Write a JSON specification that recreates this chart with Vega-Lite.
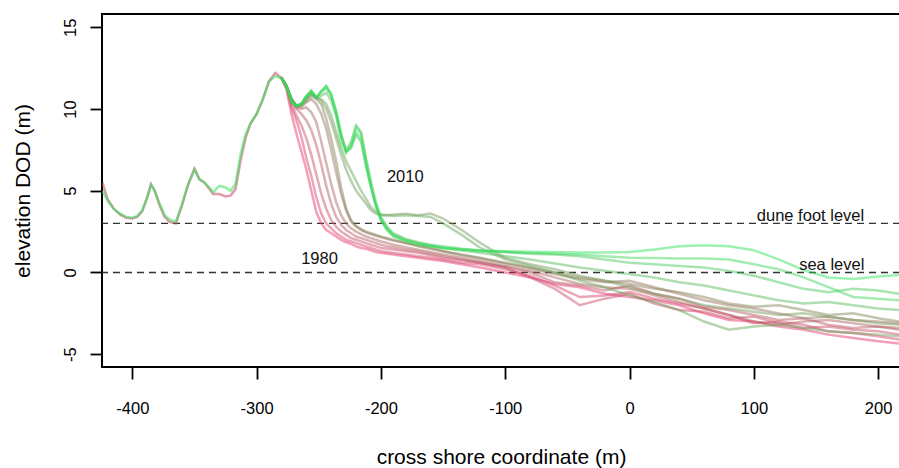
{
"$schema":"https://vega.github.io/schema/vega-lite/v6.json",
"width":798,"height":353,
"autosize":{"type":"none"},
"padding":{"left":102,"top":14,"right":0,"bottom":101},
"background":"white",
"config":{"view":{"stroke":"black","strokeWidth":2},"font":"Liberation Sans",
 "axis":{"domain":false,"grid":false,"tickColor":"black","tickWidth":1.8,"tickSize":12,"labelFontSize":16.5,"labelColor":"black","titleFontSize":21,"titleFontWeight":"normal","titleColor":"black","labelFont":"Liberation Sans","titleFont":"Liberation Sans","labelExpr":"replace(datum.label, '\u2212', '-')"}},
"datasets":{
"levels":[{"z":3},{"z":0}],
"notes":[{"t":"2010","x":-180.4,"z":5.54},{"t":"1980","x":-249.4,"z":0.55},{"t":"dune foot level","x":145.6,"z":3.14},{"t":"sea level","x":162.7,"z":0.16}],
"common":[
{"yr":1985,"x":-424,"z":5.5},{"yr":1985,"x":-420,"z":4.5},{"yr":1985,"x":-415,"z":3.9},{"yr":1985,"x":-410,"z":3.55},{"yr":1985,"x":-405,"z":3.35},{"yr":1985,"x":-400,"z":3.3},{"yr":1985,"x":-396,"z":3.4},{"yr":1985,"x":-392,"z":3.75},{"yr":1985,"x":-388,"z":4.6},{"yr":1985,"x":-385,"z":5.4},{"yr":1985,"x":-382,"z":5.0},{"yr":1985,"x":-378,"z":4.1},{"yr":1985,"x":-374,"z":3.4},{"yr":1985,"x":-370,"z":3.1},{"yr":1985,"x":-365,"z":3.0},{"yr":1985,"x":-360,"z":4.1},{"yr":1985,"x":-355,"z":5.4},{"yr":1985,"x":-350,"z":6.35},{"yr":1985,"x":-346,"z":5.7},{"yr":1985,"x":-342,"z":5.5},{"yr":1985,"x":-338,"z":5.1},{"yr":1985,"x":-335,"z":4.8},{"yr":1985,"x":-330,"z":4.8},{"yr":1985,"x":-325,"z":4.65},{"yr":1985,"x":-321,"z":4.7},{"yr":1985,"x":-317,"z":5.1},{"yr":1985,"x":-313,"z":6.8},{"yr":1985,"x":-309,"z":8.2},{"yr":1985,"x":-305,"z":9.1},{"yr":1985,"x":-300,"z":9.7},{"yr":1985,"x":-295,"z":10.6},{"yr":1985,"x":-290,"z":11.7},{"yr":1985,"x":-285,"z":12.2},{"yr":1985,"x":-280,"z":11.9},
{"yr":2010,"x":-424,"z":5.0},{"yr":2010,"x":-420,"z":4.4},{"yr":2010,"x":-415,"z":3.9},{"yr":2010,"x":-410,"z":3.6},{"yr":2010,"x":-405,"z":3.4},{"yr":2010,"x":-400,"z":3.35},{"yr":2010,"x":-396,"z":3.45},{"yr":2010,"x":-392,"z":3.8},{"yr":2010,"x":-388,"z":4.6},{"yr":2010,"x":-385,"z":5.35},{"yr":2010,"x":-382,"z":5.0},{"yr":2010,"x":-378,"z":4.2},{"yr":2010,"x":-374,"z":3.5},{"yr":2010,"x":-370,"z":3.25},{"yr":2010,"x":-365,"z":3.1},{"yr":2010,"x":-360,"z":4.2},{"yr":2010,"x":-355,"z":5.4},{"yr":2010,"x":-350,"z":6.3},{"yr":2010,"x":-346,"z":5.7},{"yr":2010,"x":-342,"z":5.5},{"yr":2010,"x":-338,"z":5.2},{"yr":2010,"x":-335,"z":4.9},{"yr":2010,"x":-330,"z":5.3},{"yr":2010,"x":-325,"z":5.2},{"yr":2010,"x":-321,"z":5.0},{"yr":2010,"x":-317,"z":5.4},{"yr":2010,"x":-313,"z":7.2},{"yr":2010,"x":-309,"z":8.4},{"yr":2010,"x":-305,"z":9.1},{"yr":2010,"x":-300,"z":9.7},{"yr":2010,"x":-295,"z":10.6},{"yr":2010,"x":-290,"z":11.7},{"yr":2010,"x":-285,"z":12.0},{"yr":2010,"x":-280,"z":11.9}
],
"profiles":[
{"yr":1980,"x":-280,"z":11.9},{"yr":1980,"x":-276,"z":11.2},{"yr":1980,"x":-272,"z":9.7},{"yr":1980,"x":-268,"z":8.5},{"yr":1980,"x":-264,"z":7.4},{"yr":1980,"x":-260,"z":6.3},{"yr":1980,"x":-256,"z":5.0},{"yr":1980,"x":-252,"z":3.7},{"yr":1980,"x":-248,"z":3.0},{"yr":1980,"x":-244,"z":2.6},{"yr":1980,"x":-240,"z":2.4},{"yr":1980,"x":-236,"z":2.2},{"yr":1980,"x":-232,"z":2.0},{"yr":1980,"x":-228,"z":1.85},{"yr":1980,"x":-224,"z":1.75},{"yr":1980,"x":-220,"z":1.6},{"yr":1980,"x":-216,"z":1.5},{"yr":1980,"x":-212,"z":1.45},{"yr":1980,"x":-208,"z":1.35},{"yr":1980,"x":-204,"z":1.25},{"yr":1980,"x":-200,"z":1.2},{"yr":1980,"x":-195,"z":1.15},{"yr":1980,"x":-190,"z":1.1},{"yr":1980,"x":-180,"z":1.0},{"yr":1980,"x":-170,"z":0.9},{"yr":1980,"x":-160,"z":0.8},{"yr":1980,"x":-150,"z":0.7},{"yr":1980,"x":-135,"z":0.5},{"yr":1980,"x":-120,"z":0.3},{"yr":1980,"x":-100,"z":0.0},{"yr":1980,"x":-80,"z":-0.3},{"yr":1980,"x":-60,"z":-0.7},{"yr":1980,"x":-40,"z":-0.9},{"yr":1980,"x":-20,"z":-1.3},{"yr":1980,"x":0,"z":-1.5},{"yr":1980,"x":20,"z":-1.7},{"yr":1980,"x":40,"z":-2.0},{"yr":1980,"x":60,"z":-2.5},{"yr":1980,"x":80,"z":-2.9},{"yr":1980,"x":100,"z":-3.0},{"yr":1980,"x":120,"z":-3.3},{"yr":1980,"x":140,"z":-3.5},{"yr":1980,"x":160,"z":-3.8},{"yr":1980,"x":180,"z":-4.0},{"yr":1980,"x":200,"z":-4.2},{"yr":1980,"x":217,"z":-4.35},
{"yr":1983,"x":-280,"z":11.9},{"yr":1983,"x":-276,"z":11.3},{"yr":1983,"x":-272,"z":10.1},{"yr":1983,"x":-268,"z":9.3},{"yr":1983,"x":-264,"z":8.3},{"yr":1983,"x":-260,"z":7.0},{"yr":1983,"x":-256,"z":5.9},{"yr":1983,"x":-252,"z":4.6},{"yr":1983,"x":-248,"z":3.6},{"yr":1983,"x":-244,"z":3.0},{"yr":1983,"x":-240,"z":2.7},{"yr":1983,"x":-236,"z":2.4},{"yr":1983,"x":-232,"z":2.2},{"yr":1983,"x":-228,"z":2.0},{"yr":1983,"x":-224,"z":1.9},{"yr":1983,"x":-220,"z":1.8},{"yr":1983,"x":-216,"z":1.7},{"yr":1983,"x":-212,"z":1.6},{"yr":1983,"x":-208,"z":1.5},{"yr":1983,"x":-204,"z":1.4},{"yr":1983,"x":-200,"z":1.3},{"yr":1983,"x":-195,"z":1.25},{"yr":1983,"x":-190,"z":1.2},{"yr":1983,"x":-180,"z":1.1},{"yr":1983,"x":-170,"z":1.0},{"yr":1983,"x":-160,"z":0.9},{"yr":1983,"x":-150,"z":0.8},{"yr":1983,"x":-135,"z":0.6},{"yr":1983,"x":-120,"z":0.5},{"yr":1983,"x":-100,"z":0.2},{"yr":1983,"x":-80,"z":-0.2},{"yr":1983,"x":-60,"z":-0.8},{"yr":1983,"x":-40,"z":-1.5},{"yr":1983,"x":-20,"z":-1.4},{"yr":1983,"x":0,"z":-1.2},{"yr":1983,"x":20,"z":-1.6},{"yr":1983,"x":40,"z":-1.9},{"yr":1983,"x":60,"z":-2.2},{"yr":1983,"x":80,"z":-2.6},{"yr":1983,"x":100,"z":-3.1},{"yr":1983,"x":120,"z":-3.0},{"yr":1983,"x":140,"z":-3.2},{"yr":1983,"x":160,"z":-3.6},{"yr":1983,"x":180,"z":-3.7},{"yr":1983,"x":200,"z":-3.9},{"yr":1983,"x":217,"z":-4.1},
{"yr":1985,"x":-280,"z":11.9},{"yr":1985,"x":-276,"z":11.4},{"yr":1985,"x":-272,"z":10.3},{"yr":1985,"x":-268,"z":9.6},{"yr":1985,"x":-264,"z":9.0},{"yr":1985,"x":-260,"z":8.2},{"yr":1985,"x":-256,"z":7.2},{"yr":1985,"x":-252,"z":6.0},{"yr":1985,"x":-248,"z":4.8},{"yr":1985,"x":-244,"z":3.9},{"yr":1985,"x":-240,"z":3.2},{"yr":1985,"x":-236,"z":2.8},{"yr":1985,"x":-232,"z":2.5},{"yr":1985,"x":-228,"z":2.3},{"yr":1985,"x":-224,"z":2.1},{"yr":1985,"x":-220,"z":2.0},{"yr":1985,"x":-216,"z":1.9},{"yr":1985,"x":-212,"z":1.8},{"yr":1985,"x":-208,"z":1.7},{"yr":1985,"x":-204,"z":1.6},{"yr":1985,"x":-200,"z":1.5},{"yr":1985,"x":-195,"z":1.45},{"yr":1985,"x":-190,"z":1.4},{"yr":1985,"x":-180,"z":1.3},{"yr":1985,"x":-170,"z":1.2},{"yr":1985,"x":-160,"z":1.05},{"yr":1985,"x":-150,"z":0.9},{"yr":1985,"x":-135,"z":0.75},{"yr":1985,"x":-120,"z":0.6},{"yr":1985,"x":-100,"z":0.3},{"yr":1985,"x":-80,"z":-0.3},{"yr":1985,"x":-60,"z":-1.0},{"yr":1985,"x":-40,"z":-2.0},{"yr":1985,"x":-20,"z":-1.6},{"yr":1985,"x":0,"z":-1.3},{"yr":1985,"x":20,"z":-1.9},{"yr":1985,"x":40,"z":-2.3},{"yr":1985,"x":60,"z":-2.4},{"yr":1985,"x":80,"z":-2.8},{"yr":1985,"x":100,"z":-2.7},{"yr":1985,"x":120,"z":-3.1},{"yr":1985,"x":140,"z":-3.4},{"yr":1985,"x":160,"z":-3.3},{"yr":1985,"x":180,"z":-3.5},{"yr":1985,"x":200,"z":-3.6},{"yr":1985,"x":217,"z":-3.8},
{"yr":1988,"x":-280,"z":11.9},{"yr":1988,"x":-276,"z":11.4},{"yr":1988,"x":-272,"z":10.5},{"yr":1988,"x":-268,"z":10.0},{"yr":1988,"x":-264,"z":9.7},{"yr":1988,"x":-260,"z":9.3},{"yr":1988,"x":-256,"z":8.7},{"yr":1988,"x":-252,"z":7.8},{"yr":1988,"x":-248,"z":6.6},{"yr":1988,"x":-244,"z":5.3},{"yr":1988,"x":-240,"z":4.2},{"yr":1988,"x":-236,"z":3.4},{"yr":1988,"x":-232,"z":2.9},{"yr":1988,"x":-228,"z":2.6},{"yr":1988,"x":-224,"z":2.4},{"yr":1988,"x":-220,"z":2.2},{"yr":1988,"x":-216,"z":2.1},{"yr":1988,"x":-212,"z":2.0},{"yr":1988,"x":-208,"z":1.9},{"yr":1988,"x":-204,"z":1.8},{"yr":1988,"x":-200,"z":1.7},{"yr":1988,"x":-195,"z":1.6},{"yr":1988,"x":-190,"z":1.55},{"yr":1988,"x":-180,"z":1.4},{"yr":1988,"x":-170,"z":1.3},{"yr":1988,"x":-160,"z":1.15},{"yr":1988,"x":-150,"z":1.0},{"yr":1988,"x":-135,"z":0.8},{"yr":1988,"x":-120,"z":0.6},{"yr":1988,"x":-100,"z":0.35},{"yr":1988,"x":-80,"z":0.0},{"yr":1988,"x":-60,"z":-0.6},{"yr":1988,"x":-40,"z":-0.8},{"yr":1988,"x":-20,"z":-1.1},{"yr":1988,"x":0,"z":-0.8},{"yr":1988,"x":20,"z":-1.3},{"yr":1988,"x":40,"z":-1.6},{"yr":1988,"x":60,"z":-2.1},{"yr":1988,"x":80,"z":-2.3},{"yr":1988,"x":100,"z":-2.6},{"yr":1988,"x":120,"z":-2.9},{"yr":1988,"x":140,"z":-2.8},{"yr":1988,"x":160,"z":-3.2},{"yr":1988,"x":180,"z":-3.4},{"yr":1988,"x":200,"z":-3.3},{"yr":1988,"x":217,"z":-3.5},
{"yr":1990,"x":-280,"z":11.9},{"yr":1990,"x":-276,"z":11.4},{"yr":1990,"x":-272,"z":10.6},{"yr":1990,"x":-268,"z":10.1},{"yr":1990,"x":-264,"z":10.0},{"yr":1990,"x":-260,"z":10.1},{"yr":1990,"x":-256,"z":9.8},{"yr":1990,"x":-252,"z":9.2},{"yr":1990,"x":-248,"z":8.0},{"yr":1990,"x":-244,"z":6.7},{"yr":1990,"x":-240,"z":5.4},{"yr":1990,"x":-236,"z":4.3},{"yr":1990,"x":-232,"z":3.5},{"yr":1990,"x":-228,"z":3.0},{"yr":1990,"x":-224,"z":2.7},{"yr":1990,"x":-220,"z":2.5},{"yr":1990,"x":-216,"z":2.35},{"yr":1990,"x":-212,"z":2.2},{"yr":1990,"x":-208,"z":2.1},{"yr":1990,"x":-204,"z":2.0},{"yr":1990,"x":-200,"z":1.9},{"yr":1990,"x":-195,"z":1.8},{"yr":1990,"x":-190,"z":1.7},{"yr":1990,"x":-180,"z":1.55},{"yr":1990,"x":-170,"z":1.4},{"yr":1990,"x":-160,"z":1.25},{"yr":1990,"x":-150,"z":1.1},{"yr":1990,"x":-135,"z":0.9},{"yr":1990,"x":-120,"z":0.7},{"yr":1990,"x":-100,"z":0.4},{"yr":1990,"x":-80,"z":0.1},{"yr":1990,"x":-60,"z":-0.3},{"yr":1990,"x":-40,"z":-0.7},{"yr":1990,"x":-20,"z":-0.9},{"yr":1990,"x":0,"z":-1.0},{"yr":1990,"x":20,"z":-1.4},{"yr":1990,"x":40,"z":-1.8},{"yr":1990,"x":60,"z":-2.2},{"yr":1990,"x":80,"z":-2.6},{"yr":1990,"x":100,"z":-3.0},{"yr":1990,"x":120,"z":-3.2},{"yr":1990,"x":140,"z":-3.0},{"yr":1990,"x":160,"z":-2.9},{"yr":1990,"x":180,"z":-3.1},{"yr":1990,"x":200,"z":-3.3},{"yr":1990,"x":217,"z":-3.4},
{"yr":1993,"x":-280,"z":11.9},{"yr":1993,"x":-276,"z":11.4},{"yr":1993,"x":-272,"z":10.6},{"yr":1993,"x":-268,"z":10.1},{"yr":1993,"x":-264,"z":10.1},{"yr":1993,"x":-260,"z":10.4},{"yr":1993,"x":-256,"z":10.6},{"yr":1993,"x":-252,"z":10.3},{"yr":1993,"x":-248,"z":9.7},{"yr":1993,"x":-244,"z":8.8},{"yr":1993,"x":-240,"z":7.5},{"yr":1993,"x":-236,"z":6.1},{"yr":1993,"x":-232,"z":4.8},{"yr":1993,"x":-228,"z":3.8},{"yr":1993,"x":-224,"z":3.1},{"yr":1993,"x":-220,"z":2.8},{"yr":1993,"x":-216,"z":2.6},{"yr":1993,"x":-212,"z":2.45},{"yr":1993,"x":-208,"z":2.35},{"yr":1993,"x":-204,"z":2.25},{"yr":1993,"x":-200,"z":2.15},{"yr":1993,"x":-195,"z":2.05},{"yr":1993,"x":-190,"z":1.95},{"yr":1993,"x":-180,"z":1.8},{"yr":1993,"x":-170,"z":1.65},{"yr":1993,"x":-160,"z":1.5},{"yr":1993,"x":-150,"z":1.3},{"yr":1993,"x":-135,"z":1.05},{"yr":1993,"x":-120,"z":0.85},{"yr":1993,"x":-100,"z":0.55},{"yr":1993,"x":-80,"z":0.25},{"yr":1993,"x":-60,"z":-0.1},{"yr":1993,"x":-40,"z":-0.4},{"yr":1993,"x":-20,"z":-0.6},{"yr":1993,"x":0,"z":-0.5},{"yr":1993,"x":20,"z":-0.9},{"yr":1993,"x":40,"z":-1.3},{"yr":1993,"x":60,"z":-1.7},{"yr":1993,"x":80,"z":-2.0},{"yr":1993,"x":100,"z":-2.2},{"yr":1993,"x":120,"z":-2.5},{"yr":1993,"x":140,"z":-2.8},{"yr":1993,"x":160,"z":-2.7},{"yr":1993,"x":180,"z":-2.9},{"yr":1993,"x":200,"z":-3.0},{"yr":1993,"x":217,"z":-3.1},
{"yr":1996,"x":-280,"z":11.9},{"yr":1996,"x":-276,"z":11.4},{"yr":1996,"x":-272,"z":10.6},{"yr":1996,"x":-268,"z":10.2},{"yr":1996,"x":-264,"z":10.2},{"yr":1996,"x":-260,"z":10.5},{"yr":1996,"x":-256,"z":10.8},{"yr":1996,"x":-252,"z":10.6},{"yr":1996,"x":-248,"z":10.3},{"yr":1996,"x":-244,"z":9.4},{"yr":1996,"x":-240,"z":8.2},{"yr":1996,"x":-236,"z":6.8},{"yr":1996,"x":-232,"z":5.2},{"yr":1996,"x":-228,"z":3.9},{"yr":1996,"x":-224,"z":3.2},{"yr":1996,"x":-220,"z":2.85},{"yr":1996,"x":-216,"z":2.65},{"yr":1996,"x":-212,"z":2.5},{"yr":1996,"x":-208,"z":2.4},{"yr":1996,"x":-204,"z":2.3},{"yr":1996,"x":-200,"z":2.2},{"yr":1996,"x":-195,"z":2.1},{"yr":1996,"x":-190,"z":2.0},{"yr":1996,"x":-180,"z":1.8},{"yr":1996,"x":-170,"z":1.6},{"yr":1996,"x":-160,"z":1.45},{"yr":1996,"x":-150,"z":1.3},{"yr":1996,"x":-135,"z":1.1},{"yr":1996,"x":-120,"z":0.9},{"yr":1996,"x":-100,"z":0.6},{"yr":1996,"x":-80,"z":0.3},{"yr":1996,"x":-60,"z":0.0},{"yr":1996,"x":-40,"z":-0.3},{"yr":1996,"x":-20,"z":-0.5},{"yr":1996,"x":0,"z":-0.7},{"yr":1996,"x":20,"z":-1.0},{"yr":1996,"x":40,"z":-1.2},{"yr":1996,"x":60,"z":-1.5},{"yr":1996,"x":80,"z":-1.9},{"yr":1996,"x":100,"z":-2.1},{"yr":1996,"x":120,"z":-2.0},{"yr":1996,"x":140,"z":-2.3},{"yr":1996,"x":160,"z":-2.6},{"yr":1996,"x":180,"z":-2.5},{"yr":1996,"x":200,"z":-2.8},{"yr":1996,"x":217,"z":-3.0},
{"yr":1999,"x":-280,"z":11.9},{"yr":1999,"x":-276,"z":11.4},{"yr":1999,"x":-272,"z":10.6},{"yr":1999,"x":-268,"z":10.2},{"yr":1999,"x":-264,"z":10.3},{"yr":1999,"x":-260,"z":10.6},{"yr":1999,"x":-256,"z":10.9},{"yr":1999,"x":-252,"z":10.7},{"yr":1999,"x":-248,"z":10.5},{"yr":1999,"x":-244,"z":10.0},{"yr":1999,"x":-240,"z":9.2},{"yr":1999,"x":-236,"z":8.2},{"yr":1999,"x":-232,"z":7.2},{"yr":1999,"x":-228,"z":6.3},{"yr":1999,"x":-224,"z":5.6},{"yr":1999,"x":-220,"z":5.0},{"yr":1999,"x":-216,"z":4.6},{"yr":1999,"x":-212,"z":4.2},{"yr":1999,"x":-208,"z":3.8},{"yr":1999,"x":-204,"z":3.6},{"yr":1999,"x":-200,"z":3.5},{"yr":1999,"x":-195,"z":3.5},{"yr":1999,"x":-190,"z":3.55},{"yr":1999,"x":-180,"z":3.6},{"yr":1999,"x":-170,"z":3.5},{"yr":1999,"x":-160,"z":3.6},{"yr":1999,"x":-150,"z":3.3},{"yr":1999,"x":-135,"z":2.6},{"yr":1999,"x":-120,"z":1.8},{"yr":1999,"x":-100,"z":0.9},{"yr":1999,"x":-80,"z":0.5},{"yr":1999,"x":-60,"z":0.2},{"yr":1999,"x":-40,"z":-0.2},{"yr":1999,"x":-20,"z":-0.5},{"yr":1999,"x":0,"z":-0.9},{"yr":1999,"x":20,"z":-1.3},{"yr":1999,"x":40,"z":-1.6},{"yr":1999,"x":60,"z":-2.0},{"yr":1999,"x":80,"z":-2.2},{"yr":1999,"x":100,"z":-2.4},{"yr":1999,"x":120,"z":-2.6},{"yr":1999,"x":140,"z":-2.5},{"yr":1999,"x":160,"z":-2.7},{"yr":1999,"x":180,"z":-2.9},{"yr":1999,"x":200,"z":-3.1},{"yr":1999,"x":217,"z":-3.2},
{"yr":2001,"x":-280,"z":11.9},{"yr":2001,"x":-276,"z":11.4},{"yr":2001,"x":-272,"z":10.6},{"yr":2001,"x":-268,"z":10.2},{"yr":2001,"x":-264,"z":10.3},{"yr":2001,"x":-260,"z":10.7},{"yr":2001,"x":-256,"z":11.0},{"yr":2001,"x":-252,"z":10.7},{"yr":2001,"x":-248,"z":10.6},{"yr":2001,"x":-244,"z":10.3},{"yr":2001,"x":-240,"z":9.6},{"yr":2001,"x":-236,"z":8.6},{"yr":2001,"x":-232,"z":7.6},{"yr":2001,"x":-228,"z":6.8},{"yr":2001,"x":-224,"z":6.2},{"yr":2001,"x":-220,"z":5.6},{"yr":2001,"x":-216,"z":5.0},{"yr":2001,"x":-212,"z":4.5},{"yr":2001,"x":-208,"z":4.0},{"yr":2001,"x":-204,"z":3.7},{"yr":2001,"x":-200,"z":3.55},{"yr":2001,"x":-195,"z":3.5},{"yr":2001,"x":-190,"z":3.45},{"yr":2001,"x":-180,"z":3.5},{"yr":2001,"x":-170,"z":3.45},{"yr":2001,"x":-160,"z":3.4},{"yr":2001,"x":-150,"z":3.0},{"yr":2001,"x":-135,"z":2.3},{"yr":2001,"x":-120,"z":1.5},{"yr":2001,"x":-100,"z":0.8},{"yr":2001,"x":-80,"z":0.4},{"yr":2001,"x":-60,"z":0.0},{"yr":2001,"x":-40,"z":-0.5},{"yr":2001,"x":-20,"z":-0.9},{"yr":2001,"x":0,"z":-1.4},{"yr":2001,"x":20,"z":-1.8},{"yr":2001,"x":40,"z":-2.3},{"yr":2001,"x":60,"z":-3.0},{"yr":2001,"x":80,"z":-3.5},{"yr":2001,"x":100,"z":-3.3},{"yr":2001,"x":120,"z":-3.2},{"yr":2001,"x":140,"z":-3.4},{"yr":2001,"x":160,"z":-3.6},{"yr":2001,"x":180,"z":-3.7},{"yr":2001,"x":200,"z":-3.8},{"yr":2001,"x":217,"z":-3.9},
{"yr":2004,"x":-280,"z":11.9},{"yr":2004,"x":-276,"z":11.4},{"yr":2004,"x":-272,"z":10.6},{"yr":2004,"x":-268,"z":10.2},{"yr":2004,"x":-264,"z":10.3},{"yr":2004,"x":-260,"z":10.7},{"yr":2004,"x":-256,"z":11.0},{"yr":2004,"x":-252,"z":10.7},{"yr":2004,"x":-248,"z":10.8},{"yr":2004,"x":-244,"z":11.0},{"yr":2004,"x":-240,"z":10.5},{"yr":2004,"x":-236,"z":9.6},{"yr":2004,"x":-232,"z":8.3},{"yr":2004,"x":-228,"z":7.4},{"yr":2004,"x":-224,"z":7.6},{"yr":2004,"x":-220,"z":8.4},{"yr":2004,"x":-216,"z":8.0},{"yr":2004,"x":-212,"z":6.5},{"yr":2004,"x":-208,"z":5.2},{"yr":2004,"x":-204,"z":4.1},{"yr":2004,"x":-200,"z":3.3},{"yr":2004,"x":-195,"z":2.7},{"yr":2004,"x":-190,"z":2.3},{"yr":2004,"x":-180,"z":2.0},{"yr":2004,"x":-170,"z":1.8},{"yr":2004,"x":-160,"z":1.65},{"yr":2004,"x":-150,"z":1.5},{"yr":2004,"x":-135,"z":1.35},{"yr":2004,"x":-120,"z":1.2},{"yr":2004,"x":-100,"z":1.0},{"yr":2004,"x":-80,"z":0.8},{"yr":2004,"x":-60,"z":0.55},{"yr":2004,"x":-40,"z":0.3},{"yr":2004,"x":-20,"z":0.1},{"yr":2004,"x":0,"z":-0.1},{"yr":2004,"x":20,"z":-0.3},{"yr":2004,"x":40,"z":-0.6},{"yr":2004,"x":60,"z":-0.8},{"yr":2004,"x":80,"z":-1.1},{"yr":2004,"x":100,"z":-1.4},{"yr":2004,"x":120,"z":-1.7},{"yr":2004,"x":140,"z":-1.9},{"yr":2004,"x":160,"z":-1.8},{"yr":2004,"x":180,"z":-2.0},{"yr":2004,"x":200,"z":-2.2},{"yr":2004,"x":217,"z":-2.3},
{"yr":2006,"x":-280,"z":11.9},{"yr":2006,"x":-276,"z":11.4},{"yr":2006,"x":-272,"z":10.5},{"yr":2006,"x":-268,"z":10.2},{"yr":2006,"x":-264,"z":10.3},{"yr":2006,"x":-260,"z":10.8},{"yr":2006,"x":-256,"z":11.1},{"yr":2006,"x":-252,"z":10.7},{"yr":2006,"x":-248,"z":11.0},{"yr":2006,"x":-244,"z":11.3},{"yr":2006,"x":-240,"z":10.8},{"yr":2006,"x":-236,"z":9.8},{"yr":2006,"x":-232,"z":8.4},{"yr":2006,"x":-228,"z":7.5},{"yr":2006,"x":-224,"z":8.0},{"yr":2006,"x":-220,"z":9.0},{"yr":2006,"x":-216,"z":8.6},{"yr":2006,"x":-212,"z":7.0},{"yr":2006,"x":-208,"z":5.6},{"yr":2006,"x":-204,"z":4.3},{"yr":2006,"x":-200,"z":3.4},{"yr":2006,"x":-195,"z":2.8},{"yr":2006,"x":-190,"z":2.4},{"yr":2006,"x":-180,"z":2.05},{"yr":2006,"x":-170,"z":1.85},{"yr":2006,"x":-160,"z":1.7},{"yr":2006,"x":-150,"z":1.6},{"yr":2006,"x":-135,"z":1.45},{"yr":2006,"x":-120,"z":1.35},{"yr":2006,"x":-100,"z":1.25},{"yr":2006,"x":-80,"z":1.15},{"yr":2006,"x":-60,"z":1.1},{"yr":2006,"x":-40,"z":1.0},{"yr":2006,"x":-20,"z":0.8},{"yr":2006,"x":0,"z":0.6},{"yr":2006,"x":20,"z":0.5},{"yr":2006,"x":40,"z":0.4},{"yr":2006,"x":60,"z":0.3},{"yr":2006,"x":80,"z":0.1},{"yr":2006,"x":100,"z":-0.2},{"yr":2006,"x":120,"z":-0.6},{"yr":2006,"x":140,"z":-1.0},{"yr":2006,"x":160,"z":-1.2},{"yr":2006,"x":180,"z":-1.0},{"yr":2006,"x":200,"z":-1.1},{"yr":2006,"x":217,"z":-1.3},
{"yr":2008,"x":-280,"z":11.9},{"yr":2008,"x":-276,"z":11.4},{"yr":2008,"x":-272,"z":10.4},{"yr":2008,"x":-268,"z":10.2},{"yr":2008,"x":-264,"z":10.3},{"yr":2008,"x":-260,"z":10.8},{"yr":2008,"x":-256,"z":11.1},{"yr":2008,"x":-252,"z":10.7},{"yr":2008,"x":-248,"z":11.1},{"yr":2008,"x":-244,"z":11.4},{"yr":2008,"x":-240,"z":10.9},{"yr":2008,"x":-236,"z":9.9},{"yr":2008,"x":-232,"z":8.5},{"yr":2008,"x":-228,"z":7.4},{"yr":2008,"x":-224,"z":7.8},{"yr":2008,"x":-220,"z":8.9},{"yr":2008,"x":-216,"z":8.5},{"yr":2008,"x":-212,"z":6.8},{"yr":2008,"x":-208,"z":5.3},{"yr":2008,"x":-204,"z":4.0},{"yr":2008,"x":-200,"z":3.2},{"yr":2008,"x":-195,"z":2.6},{"yr":2008,"x":-190,"z":2.25},{"yr":2008,"x":-180,"z":1.95},{"yr":2008,"x":-170,"z":1.75},{"yr":2008,"x":-160,"z":1.6},{"yr":2008,"x":-150,"z":1.5},{"yr":2008,"x":-135,"z":1.4},{"yr":2008,"x":-120,"z":1.3},{"yr":2008,"x":-100,"z":1.25},{"yr":2008,"x":-80,"z":1.2},{"yr":2008,"x":-60,"z":1.15},{"yr":2008,"x":-40,"z":1.1},{"yr":2008,"x":-20,"z":1.0},{"yr":2008,"x":0,"z":0.9},{"yr":2008,"x":20,"z":0.88},{"yr":2008,"x":40,"z":0.86},{"yr":2008,"x":60,"z":0.86},{"yr":2008,"x":80,"z":0.8},{"yr":2008,"x":100,"z":0.5},{"yr":2008,"x":120,"z":0.2},{"yr":2008,"x":140,"z":-0.3},{"yr":2008,"x":160,"z":-0.9},{"yr":2008,"x":180,"z":-1.5},{"yr":2008,"x":200,"z":-1.6},{"yr":2008,"x":217,"z":-1.7},
{"yr":2010,"x":-280,"z":11.9},{"yr":2010,"x":-276,"z":11.4},{"yr":2010,"x":-272,"z":10.4},{"yr":2010,"x":-268,"z":10.2},{"yr":2010,"x":-264,"z":10.3},{"yr":2010,"x":-260,"z":10.8},{"yr":2010,"x":-256,"z":11.1},{"yr":2010,"x":-252,"z":10.7},{"yr":2010,"x":-248,"z":11.1},{"yr":2010,"x":-244,"z":11.4},{"yr":2010,"x":-240,"z":10.9},{"yr":2010,"x":-236,"z":9.6},{"yr":2010,"x":-232,"z":8.0},{"yr":2010,"x":-228,"z":7.3},{"yr":2010,"x":-224,"z":7.7},{"yr":2010,"x":-220,"z":8.6},{"yr":2010,"x":-216,"z":8.2},{"yr":2010,"x":-212,"z":6.6},{"yr":2010,"x":-208,"z":5.2},{"yr":2010,"x":-204,"z":4.1},{"yr":2010,"x":-200,"z":3.2},{"yr":2010,"x":-195,"z":2.6},{"yr":2010,"x":-190,"z":2.2},{"yr":2010,"x":-180,"z":1.9},{"yr":2010,"x":-170,"z":1.7},{"yr":2010,"x":-160,"z":1.6},{"yr":2010,"x":-150,"z":1.5},{"yr":2010,"x":-135,"z":1.42},{"yr":2010,"x":-120,"z":1.35},{"yr":2010,"x":-100,"z":1.3},{"yr":2010,"x":-80,"z":1.27},{"yr":2010,"x":-60,"z":1.25},{"yr":2010,"x":-40,"z":1.23},{"yr":2010,"x":-20,"z":1.22},{"yr":2010,"x":0,"z":1.25},{"yr":2010,"x":20,"z":1.4},{"yr":2010,"x":40,"z":1.6},{"yr":2010,"x":60,"z":1.67},{"yr":2010,"x":80,"z":1.6},{"yr":2010,"x":100,"z":1.36},{"yr":2010,"x":120,"z":0.8},{"yr":2010,"x":140,"z":0.15},{"yr":2010,"x":160,"z":-0.3},{"yr":2010,"x":180,"z":-0.4},{"yr":2010,"x":200,"z":-0.25},{"yr":2010,"x":217,"z":-0.15}
]},
"encoding":{
 "y":{"field":"z","type":"quantitative","scale":{"domain":[-5.78,15.81],"nice":false,"zero":false},
  "axis":{"title":"elevation DOD (m)","values":[-5,0,5,10,15],"labelAngle":-90,"labelAlign":"center","labelBaseline":"alphabetic","labelPadding":15,"titlePadding":29}}
},
"layer":[
{"data":{"name":"levels"},"mark":{"type":"rule","color":"#333333","strokeWidth":1.3,"strokeDash":[7,5]}},
{"data":{"name":"common"},"mark":{"type":"line","strokeWidth":2.5,"opacity":0.55,"clip":true},
 "encoding":{
  "x":{"field":"x","type":"quantitative","scale":{"domain":[-424.4,217.6],"nice":false,"zero":false},
   "axis":{"title":"cross shore coordinate (m)","values":[-400,-300,-200,-100,0,100,200],"labelPadding":21,"titlePadding":30,"labelFlush":false}},
  "color":{"field":"yr","type":"quantitative","scale":{"domain":[1980,1995,2010],"range":["#e8306b","#8a7a58","#2fe35a"],"interpolate":"rgb"},"legend":null},
  "detail":{"field":"yr","type":"nominal"}}},
{"data":{"name":"profiles"},"mark":{"type":"line","strokeWidth":2.5,"opacity":0.47,"clip":true},
 "encoding":{
  "x":{"field":"x","type":"quantitative","scale":{"domain":[-424.4,217.6],"nice":false,"zero":false},
   "axis":{"title":"cross shore coordinate (m)","values":[-400,-300,-200,-100,0,100,200],"labelPadding":21,"titlePadding":30,"labelFlush":false}},
  "color":{"field":"yr","type":"quantitative","legend":null},
  "detail":{"field":"yr","type":"nominal"}}},
{"data":{"name":"notes"},"mark":{"type":"text","fontSize":16.5,"font":"Liberation Sans","color":"#111111","align":"center","baseline":"alphabetic"},
 "encoding":{
  "x":{"field":"x","type":"quantitative","scale":{"domain":[-424.4,217.6],"nice":false,"zero":false},
   "axis":{"title":"cross shore coordinate (m)","values":[-400,-300,-200,-100,0,100,200],"labelPadding":21,"titlePadding":30,"labelFlush":false}},
  "text":{"field":"t","type":"nominal"}}}
]
}
